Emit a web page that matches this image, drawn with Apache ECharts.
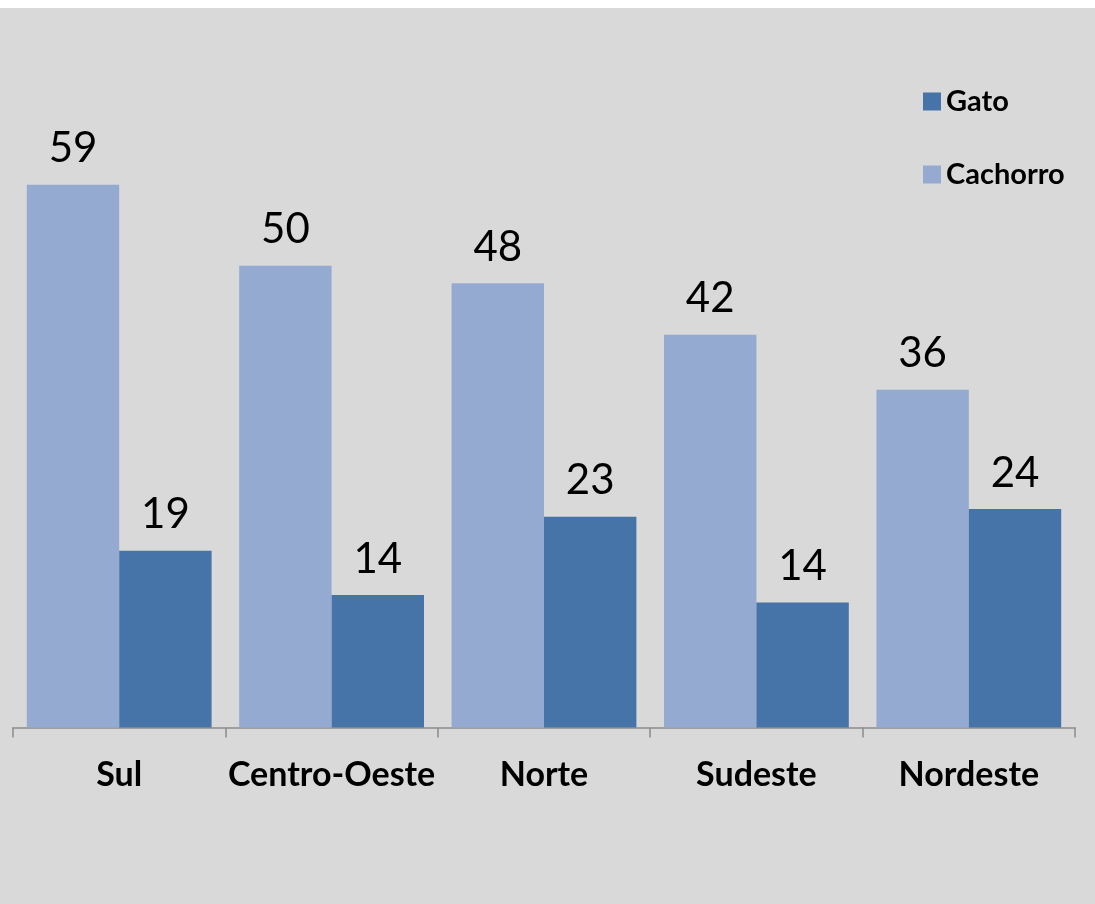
<!DOCTYPE html>
<html>
<head>
<meta charset="utf-8">
<script src="https://cdn.jsdelivr.net/npm/echarts@6/dist/echarts.min.js"></script>
<style>
html,body{margin:0;padding:0;background:#fff;}
#chart{width:1095px;height:904px;}
</style>
</head>
<body>
<div id="chart"></div>
<script>
const categories = ['Sul', 'Centro-Oeste', 'Norte', 'Sudeste', 'Nordeste'];
const cachorroValues = [59.0, 50.2, 48.3, 42.7, 36.7];
const gatoValues = [19.2, 14.4, 22.9, 13.6, 23.75];
const cachorroLabels = ['59', '50', '48', '42', '36'];
const gatoLabels = ['19', '14', '23', '14', '24'];
const legendItems = ['Gato', 'Cachorro'];

const chart = echarts.init(document.getElementById('chart'));
const labelStyle = {
  show: true,
  position: 'top',
  distance: 15,
  fontFamily: 'Lato',
  fontSize: 42,
  color: '#000'
};
chart.setOption({
  backgroundColor: '#d9d9d9',
  animation: false,
  graphic: [{
    type: 'rect', left: 0, top: 0, shape: {width: 1095, height: 8},
    style: {fill: '#ffffff'}, z: 100
  }],
  legend: {
    data: legendItems,
    orient: 'vertical',
    left: 918,
    top: 82,
    itemWidth: 18,
    itemHeight: 18,
    itemGap: 44,
    icon: 'rect',
    textStyle: {fontFamily: 'Lato', fontWeight: 'bold', fontSize: 29, color: '#000', padding: [0, 0, 0, 0]},
    selectedMode: false
  },
  grid: {left: 13, right: 20, top: 175.5, bottom: 176.5, containLabel: false},
  xAxis: {
    type: 'category',
    data: categories,
    axisLine: {lineStyle: {color: '#8c8c8c', width: 1.5}},
    axisTick: {show: true, length: 10, lineStyle: {color: '#8c8c8c', width: 1.5}},
    axisLabel: {interval: 0, fontFamily: 'Lato', fontWeight: 'bold', fontSize: 34, color: '#000', margin: 31}
  },
  yAxis: {
    type: 'value', min: 0, max: 60, show: false, splitLine: {show: false}
  },
  series: [
    {
      name: 'Cachorro', type: 'bar', data: cachorroValues,
      barGap: '0%', barCategoryGap: '13%',
      itemStyle: {color: '#95aad1'},
      label: Object.assign({}, labelStyle, {formatter: p => cachorroLabels[p.dataIndex]})
    },
    {
      name: 'Gato', type: 'bar', data: gatoValues,
      barGap: '0%', barCategoryGap: '13%',
      itemStyle: {color: '#4674a8'},
      label: Object.assign({}, labelStyle, {formatter: p => gatoLabels[p.dataIndex]})
    }
  ]
});
</script>
</body>
</html>
